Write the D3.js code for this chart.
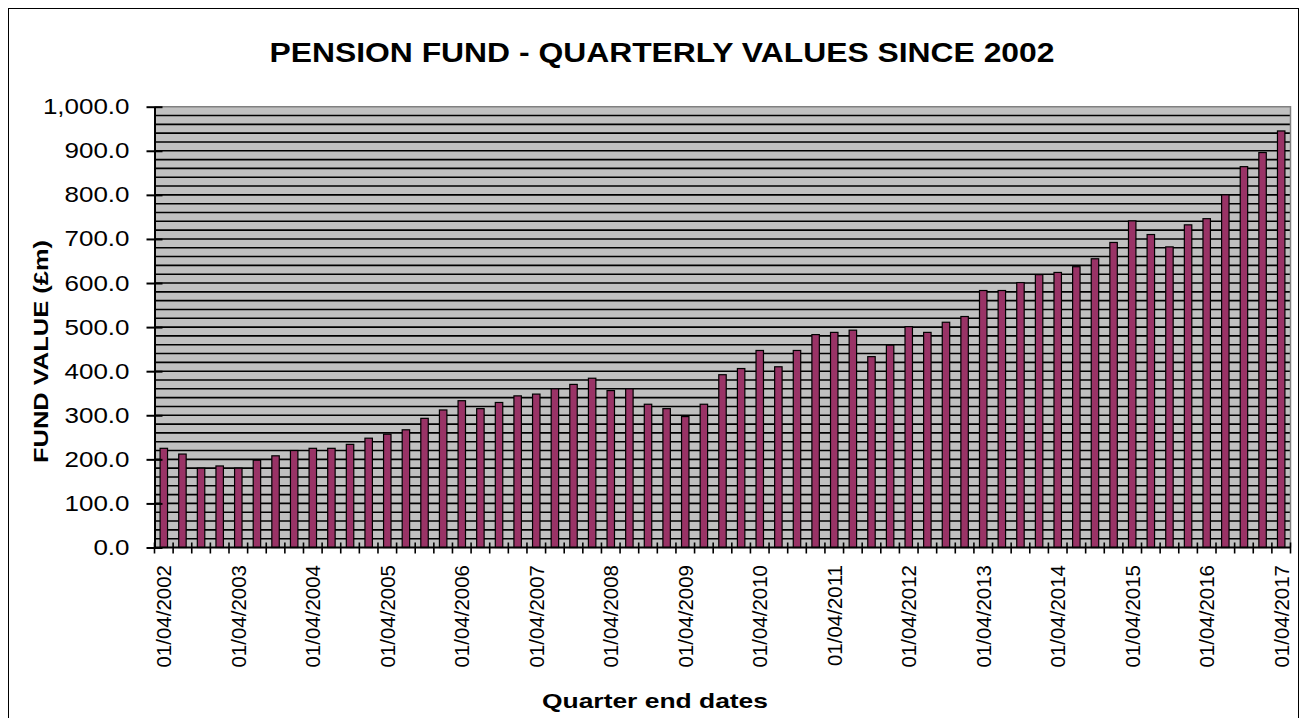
<!DOCTYPE html>
<html>
<head>
<meta charset="utf-8">
<script src="https://cdn.jsdelivr.net/npm/d3@7/dist/d3.min.js"></script>
<style>
  html, body { margin: 0; padding: 0; background: #fff; }
  svg { display: block; font-family: "Liberation Sans", Arial, sans-serif; }
</style>
</head>
<body>
<svg id="chart" width="1306" height="718"></svg>
<script>
const categories = [
  "01/04/2002","01/07/2002","01/10/2002","01/01/2003",
  "01/04/2003","01/07/2003","01/10/2003","01/01/2004",
  "01/04/2004","01/07/2004","01/10/2004","01/01/2005",
  "01/04/2005","01/07/2005","01/10/2005","01/01/2006",
  "01/04/2006","01/07/2006","01/10/2006","01/01/2007",
  "01/04/2007","01/07/2007","01/10/2007","01/01/2008",
  "01/04/2008","01/07/2008","01/10/2008","01/01/2009",
  "01/04/2009","01/07/2009","01/10/2009","01/01/2010",
  "01/04/2010","01/07/2010","01/10/2010","01/01/2011",
  "01/04/2011","01/07/2011","01/10/2011","01/01/2012",
  "01/04/2012","01/07/2012","01/10/2012","01/01/2013",
  "01/04/2013","01/07/2013","01/10/2013","01/01/2014",
  "01/04/2014","01/07/2014","01/10/2014","01/01/2015",
  "01/04/2015","01/07/2015","01/10/2015","01/01/2016",
  "01/04/2016","01/07/2016","01/10/2016","01/01/2017",
  "01/04/2017"
];
const fundValues = [
  225,212,180,185,180,198,208,220,225,225,234,248,257,267,293,312,
  333,315,329,344,348,360,370,384,356,360,325,315,297,325,392,406,
  447,410,447,483,488,493,433,459,501,488,511,524,583,583,601,619,
  624,637,655,692,741,710,682,732,746,800,864,896,945
];
const tickLabels = [
  "01/04/2002","01/04/2003","01/04/2004","01/04/2005","01/04/2006",
  "01/04/2007","01/04/2008","01/04/2009","01/04/2010","01/04/2011",
  "01/04/2012","01/04/2013","01/04/2014","01/04/2015","01/04/2016",
  "01/04/2017"
];
const yTicks = [0,100,200,300,400,500,600,700,800,900,1000];
const gridValues = d3.range(0, 1001, 20);

const titleText = "PENSION FUND - QUARTERLY VALUES SINCE 2002";
const yTitleText = "FUND  VALUE (£m)";
const xTitleText = "Quarter end dates";

const svg = d3.select("#chart");
const plot = { left: 154.5, right: 1290.5, top: 106.7, bottom: 547.5 };

// outer frame
svg.append("rect")
  .attr("x", 8.5).attr("y", 8.5)
  .attr("width", 1290).attr("height", 730)
  .attr("fill", "#fff").attr("stroke", "#000").attr("stroke-width", 1);

const x = d3.scaleBand()
  .domain(categories)
  .range([plot.left, plot.right])
  .paddingInner(0.6)
  .paddingOuter(0.3);

const y = d3.scaleLinear().domain([0, 1000]).range([plot.bottom, plot.top]);

// plot background
svg.append("rect")
  .attr("x", plot.left).attr("y", plot.top)
  .attr("width", plot.right - plot.left).attr("height", plot.bottom - plot.top)
  .attr("fill", "#C0C0C0");

// gridlines
svg.append("g").selectAll("line")
  .data(gridValues.filter(v => v > 0 && v < 1000))
  .join("line")
  .attr("x1", plot.left).attr("x2", plot.right)
  .attr("y1", d => y(d)).attr("y2", d => y(d))
  .attr("stroke", "#000").attr("stroke-width", 1.6);

// plot border top/right (grey)
svg.append("path")
  .attr("d", `M${plot.left},${plot.top}H${plot.right}V${plot.bottom}`)
  .attr("fill", "none").attr("stroke", "#808080").attr("stroke-width", 1.5);

// bars
svg.append("g").selectAll("rect")
  .data(fundValues)
  .join("rect")
  .attr("x", (d, i) => x(categories[i]))
  .attr("y", d => y(d))
  .attr("width", x.bandwidth())
  .attr("height", d => y(0) - y(d))
  .attr("fill", "#993366")
  .attr("stroke", "#000")
  .attr("stroke-width", 1.2);

// y axis
const yAxis = d3.axisLeft(y)
  .tickValues(yTicks)
  .tickFormat(d3.format(",.1f"))
  .tickSizeInner(8).tickSizeOuter(0);
const gy = svg.append("g")
  .attr("transform", `translate(${plot.left},0)`)
  .call(yAxis);
gy.select(".domain").attr("stroke", "#000").attr("stroke-width", 2);
gy.selectAll(".tick line").attr("x2", 8).attr("x1", -8).attr("stroke", "#000").attr("stroke-width", 2);
gy.selectAll(".tick text")
  .attr("x", null)
  .attr("transform", "translate(-25,0) scale(1.18,1)")
  .attr("font-size", 22)
  .attr("font-family", "Liberation Sans, Arial, sans-serif")
  .attr("fill", "#000");

// x axis: domain line + boundary ticks
const step = x.step();
const bounds = d3.range(categories.length + 1).map(i => plot.left + i * step);
const gx = svg.append("g");
gx.append("line")
  .attr("x1", plot.left).attr("x2", plot.right)
  .attr("y1", plot.bottom).attr("y2", plot.bottom)
  .attr("stroke", "#000").attr("stroke-width", 2);
gx.selectAll("line.tk")
  .data(bounds)
  .join("line")
  .attr("class", "tk")
  .attr("x1", d => d).attr("x2", d => d)
  .attr("y1", plot.bottom - 5).attr("y2", plot.bottom + 6)
  .attr("stroke", "#000").attr("stroke-width", 1.6);

// x tick labels
gx.selectAll("text.lbl")
  .data(tickLabels)
  .join("text")
  .attr("class", "lbl")
  .attr("transform", d => `translate(${x(d) + x.bandwidth() / 2},565) rotate(-90)`)
  .attr("text-anchor", "end")
  .attr("dy", "0.36em")
  .attr("font-size", 20.5)
  .attr("fill", "#000")
  .text(d => d);

// title
svg.append("text")
  .attr("x", 662).attr("y", 62)
  .attr("text-anchor", "middle")
  .attr("font-size", 27).attr("font-weight", "bold")
  .attr("textLength", 785).attr("lengthAdjust", "spacingAndGlyphs")
  .text(titleText);

// y title
svg.append("text")
  .attr("transform", "translate(48,351.5) rotate(-90)")
  .attr("text-anchor", "middle")
  .attr("font-size", 21).attr("font-weight", "bold")
  .attr("textLength", 223).attr("lengthAdjust", "spacingAndGlyphs")
  .text(yTitleText);

// x title
svg.append("text")
  .attr("x", 655).attr("y", 708)
  .attr("text-anchor", "middle")
  .attr("font-size", 21).attr("font-weight", "bold")
  .attr("textLength", 226).attr("lengthAdjust", "spacingAndGlyphs")
  .text(xTitleText);
</script>
</body>
</html>
